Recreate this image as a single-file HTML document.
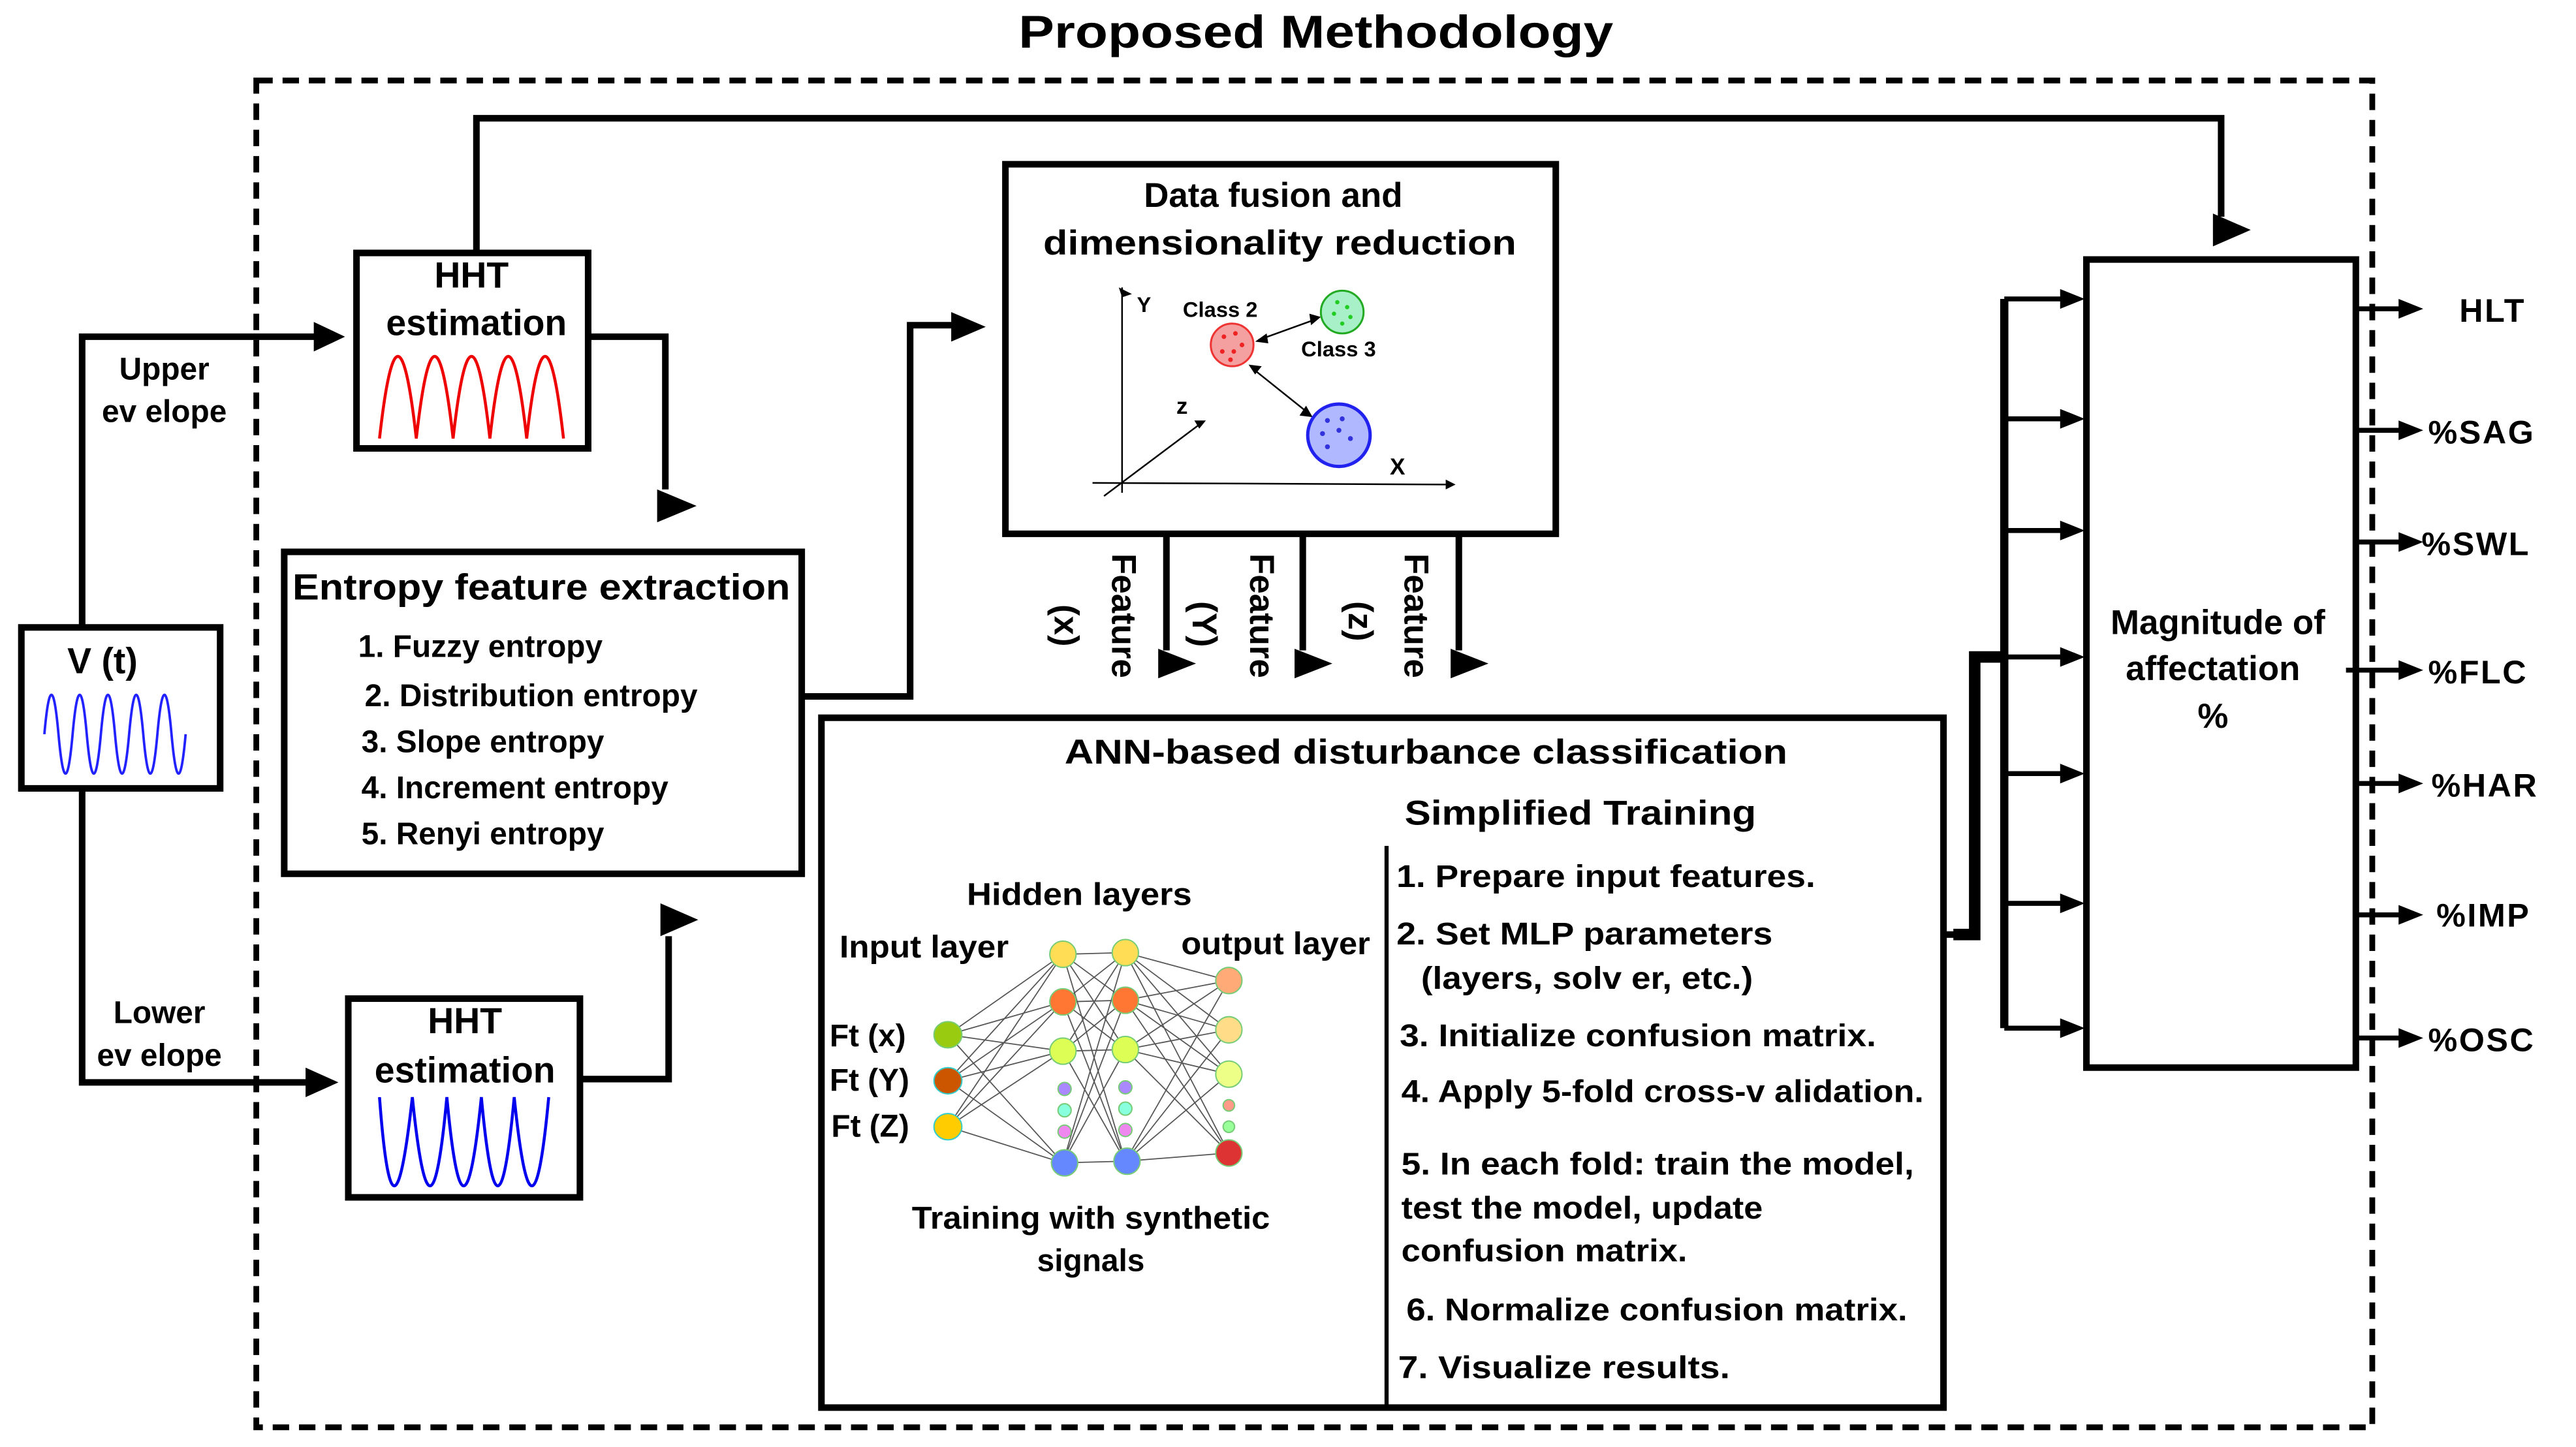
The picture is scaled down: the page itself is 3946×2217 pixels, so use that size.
<!DOCTYPE html>
<html><head><meta charset="utf-8"><style>
html,body{margin:0;padding:0;background:#fff;}
svg{display:block;}
text{font-family:"Liberation Sans",Arial,sans-serif;font-weight:bold;fill:#000;}
.n{font-family:"Liberation Sans Narrow","Liberation Sans",sans-serif;}
</style></head><body>
<svg width="3946" height="2217" viewBox="0 0 1568 881" preserveAspectRatio="none" xmlns="http://www.w3.org/2000/svg">
<rect width="1568" height="881" fill="#fff"/>
<text x="620" y="29" font-size="28" textLength="362" lengthAdjust="spacingAndGlyphs">Proposed  Methodology</text>
<rect x="156" y="49" width="1288" height="820" fill="none" stroke="#000" stroke-width="3.5" stroke-dasharray="10,6"/>

<g fill="none" stroke="#000" stroke-width="4">
<rect x="13" y="382" width="121" height="98"/>
<rect x="217" y="154" width="141" height="119"/>
<rect x="212" y="608" width="141" height="121"/>
<rect x="173" y="336" width="315" height="196"/>
<rect x="612" y="100" width="335" height="225"/>
<rect x="500" y="437" width="683" height="420"/>
<rect x="1270" y="158" width="164" height="492"/>
<polyline points="50,382 50,205 198,205"/>
<polyline points="50,480 50,659 193,659"/>
<polyline points="290,154 290,72 1352,72 1352,132"/>
<polyline points="358,205 405,205 405,298"/>
<polyline points="488,424 554,424 554,198 584,198"/>
<polyline points="353,657 407,657 407,570"/>
<line x1="710" y1="325" x2="710" y2="396"/>
<line x1="793" y1="325" x2="793" y2="396"/>
<line x1="888" y1="325" x2="888" y2="396"/>
<polyline points="1183,569 1200,569"/>
<polyline points="1220,182 1220,626" stroke-width="5"/>
</g>
<polyline points="1189,569 1202,569 1202,400 1222,400" fill="none" stroke="#000" stroke-width="7"/>
<line x1="844" y1="515" x2="844" y2="857" stroke="#000" stroke-width="2.5"/>

<g fill="#000">
<polygon points="191,196 210,205 191,214"/>
<polygon points="186,650 206,659 186,668"/>
<polygon points="1347,130 1370,140 1347,150"/>
<polygon points="400,298 424,308 400,318"/>
<polygon points="579,190 600,199 579,208"/>
<polygon points="402,550 425,560 402,570"/>
<polygon points="705,395 728,404 705,413"/>
<polygon points="788,395 811,404 788,413"/>
<polygon points="883,395 906,404 883,413"/>
</g>
<g stroke="#000" stroke-width="3">
<line x1="1220" y1="182" x2="1256" y2="182"/><line x1="1220" y1="255" x2="1256" y2="255"/>
<line x1="1220" y1="323" x2="1256" y2="323"/><line x1="1220" y1="400" x2="1256" y2="400"/>
<line x1="1220" y1="471" x2="1256" y2="471"/><line x1="1220" y1="550" x2="1256" y2="550"/>
<line x1="1220" y1="626" x2="1256" y2="626"/>
<line x1="1434" y1="188" x2="1462" y2="188"/><line x1="1434" y1="262" x2="1462" y2="262"/>
<line x1="1434" y1="330" x2="1462" y2="330"/><line x1="1428" y1="408" x2="1462" y2="408"/>
<line x1="1434" y1="477" x2="1462" y2="477"/><line x1="1434" y1="557" x2="1462" y2="557"/>
<line x1="1434" y1="632" x2="1462" y2="632"/>
</g>
<g fill="#000">
<polygon points="1254,176 1269,182 1254,188"/><polygon points="1254,249 1269,255 1254,261"/>
<polygon points="1254,317 1269,323 1254,329"/><polygon points="1254,394 1269,400 1254,406"/>
<polygon points="1254,465 1269,471 1254,477"/><polygon points="1254,544 1269,550 1254,556"/>
<polygon points="1254,620 1269,626 1254,632"/>
<polygon points="1460,182 1475,188 1460,194"/><polygon points="1460,256 1475,262 1460,268"/>
<polygon points="1460,324 1475,330 1460,336"/><polygon points="1460,402 1475,408 1460,414"/>
<polygon points="1460,471 1475,477 1460,483"/><polygon points="1460,551 1475,557 1460,563"/>
<polygon points="1460,626 1475,632 1460,638"/>
</g>

<path d="M27,447 Q31.3,399 35.6,447 T44.2,447 T52.8,447 T61.4,447 T70,447 T78.6,447 T87.2,447 T95.8,447 T104.4,447 T113,447" fill="none" stroke="#22f" stroke-width="1.5"/>
<path d="M231,267 Q242.2,167 253.4,267 Q264.6,167 275.8,267 Q287,167 298.2,267 Q309.4,167 320.6,267 Q331.8,167 343,267" fill="none" stroke="#e00" stroke-width="1.8"/>
<path d="M231,668 Q239,776 251,668 Q262,776 272,668 Q282,776 293,668 Q303,776 313,668 Q324,776 334,668" fill="none" stroke="#00e" stroke-width="1.8"/>

<text x="41" y="410" font-size="22">V (t)</text>
<text x="287" y="175" font-size="22" text-anchor="middle">HHT</text>
<text x="290" y="204" font-size="22" text-anchor="middle">estimation</text>
<text x="283" y="629" font-size="22" text-anchor="middle">HHT</text>
<text x="283" y="659" font-size="22" text-anchor="middle">estimation</text>
<text x="100" y="231" font-size="19" text-anchor="middle">Upper</text>
<text x="100" y="257" font-size="19" text-anchor="middle">ev elope</text>
<text x="97" y="623" font-size="19" text-anchor="middle">Lower</text>
<text x="97" y="649" font-size="19" text-anchor="middle">ev elope</text>
<text x="178" y="365" font-size="22" textLength="303" lengthAdjust="spacingAndGlyphs">Entropy feature extraction</text>
<g font-size="19">
<text x="218" y="400">1. Fuzzy entropy</text>
<text x="222" y="430">2. Distribution entropy</text>
<text x="220" y="458">3. Slope entropy</text>
<text x="220" y="486">4. Increment entropy</text>
<text x="220" y="514">5. Renyi entropy</text>
</g>
<text x="775" y="126" font-size="21" text-anchor="middle">Data fusion and</text>
<text x="779" y="155" font-size="21" text-anchor="middle" textLength="288" lengthAdjust="spacingAndGlyphs">dimensionality reduction</text>
<g stroke="#000" stroke-width="1" fill="none">
<line x1="683" y1="300" x2="683" y2="175"/><line x1="665" y1="294" x2="880" y2="295"/>
<line x1="672" y1="302" x2="732" y2="257"/>
<line x1="766" y1="207" x2="802" y2="194"/><line x1="762" y1="224" x2="797" y2="252"/>
</g>
<g fill="#000"><polygon points="681,175 689,179 683,181"/><polygon points="880,292 880,298 886,295"/><polygon points="727,256 734,256 730,261"/>
<polygon points="764,208 771,203 772,209"/><polygon points="804,193 797,191 798,198"/>
<polygon points="760,222 768,223 764,228"/><polygon points="799,254 791,253 795,247"/></g>
<circle cx="750" cy="210" r="13" fill="#f4a0a0" stroke="#e33" stroke-width="1.2"/>
<circle cx="817" cy="190" r="13" fill="#a8f0c8" stroke="#2a2" stroke-width="1.2"/>
<circle cx="815" cy="265" r="19" fill="#b0b8ff" stroke="#22e" stroke-width="2"/>
<g fill="#e22"><circle cx="745" cy="205" r="1.4"/><circle cx="752" cy="203" r="1.4"/><circle cx="756" cy="210" r="1.4"/><circle cx="744" cy="214" r="1.4"/><circle cx="751" cy="214" r="1.4"/><circle cx="749" cy="219" r="1.4"/></g>
<g fill="#2c2"><circle cx="814" cy="184" r="1.3"/><circle cx="820" cy="187" r="1.3"/><circle cx="812" cy="191" r="1.3"/><circle cx="822" cy="193" r="1.3"/><circle cx="817" cy="197" r="1.3"/></g>
<g fill="#33d"><circle cx="808" cy="256" r="1.5"/><circle cx="817" cy="255" r="1.5"/><circle cx="805" cy="264" r="1.5"/><circle cx="815" cy="262" r="1.5"/><circle cx="822" cy="267" r="1.5"/><circle cx="808" cy="272" r="1.5"/></g>
<text x="692" y="190" font-size="13">Y</text>
<text x="720" y="193" font-size="13">Class 2</text>
<text x="792" y="217" font-size="13">Class 3</text>
<text x="716" y="252" font-size="14">z</text>
<text x="846" y="289" font-size="14">X</text>
<g font-size="21">
<text transform="translate(677,337) rotate(90)">Feature</text>
<text transform="translate(642,368) rotate(90)">(x)</text>
<text transform="translate(761,337) rotate(90)">Feature</text>
<text transform="translate(726,366) rotate(90)">(Y)</text>
<text transform="translate(855,337) rotate(90)">Feature</text>
<text transform="translate(821,366) rotate(90)">(z)</text>
</g>
<text x="868" y="465" font-size="21" text-anchor="middle" class="n" textLength="440" lengthAdjust="spacingAndGlyphs">ANN-based disturbance  classification</text>
<text x="962" y="502" font-size="21" text-anchor="middle" class="n" textLength="214" lengthAdjust="spacingAndGlyphs">Simplified Training</text>
<g font-size="19" class="n">
<text x="850" y="540" textLength="255" lengthAdjust="spacingAndGlyphs">1. Prepare input features.</text>
<text x="850" y="575" textLength="229" lengthAdjust="spacingAndGlyphs">2. Set MLP parameters</text>
<text x="865" y="602" textLength="202" lengthAdjust="spacingAndGlyphs">(layers, solv er, etc.)</text>
<text x="852" y="637" textLength="290" lengthAdjust="spacingAndGlyphs">3. Initialize confusion matrix.</text>
<text x="853" y="671" textLength="318" lengthAdjust="spacingAndGlyphs">4. Apply 5-fold cross-v alidation.</text>
<text x="853" y="715" textLength="312" lengthAdjust="spacingAndGlyphs">5. In each fold: train the model,</text>
<text x="853" y="742" textLength="220" lengthAdjust="spacingAndGlyphs">test the model, update</text>
<text x="853" y="768" textLength="174" lengthAdjust="spacingAndGlyphs">confusion matrix.</text>
<text x="856" y="804" textLength="305" lengthAdjust="spacingAndGlyphs">6. Normalize confusion matrix.</text>
<text x="851" y="839" textLength="202" lengthAdjust="spacingAndGlyphs">7. Visualize results.</text>
<text x="657" y="551" text-anchor="middle" textLength="137" lengthAdjust="spacingAndGlyphs">Hidden layers</text>
<text x="511" y="583" textLength="103" lengthAdjust="spacingAndGlyphs">Input layer</text>
<text x="719" y="581" textLength="115" lengthAdjust="spacingAndGlyphs">output layer</text>
<text x="505" y="637">Ft (x)</text>
<text x="505" y="664">Ft (Y)</text>
<text x="506" y="692">Ft (Z)</text>
<text x="664" y="748" text-anchor="middle" textLength="218" lengthAdjust="spacingAndGlyphs">Training with synthetic</text>
<text x="664" y="774" text-anchor="middle">signals</text>
</g>
<g stroke="#555" stroke-width="0.7">
<line x1="577" y1="630" x2="647" y2="581"/><line x1="577" y1="630" x2="647" y2="610"/><line x1="577" y1="630" x2="647" y2="640"/><line x1="577" y1="630" x2="647" y2="708"/>
<line x1="577" y1="658" x2="647" y2="581"/><line x1="577" y1="658" x2="647" y2="610"/><line x1="577" y1="658" x2="647" y2="640"/><line x1="577" y1="658" x2="647" y2="708"/>
<line x1="577" y1="686" x2="647" y2="581"/><line x1="577" y1="686" x2="647" y2="610"/><line x1="577" y1="686" x2="647" y2="640"/><line x1="577" y1="686" x2="647" y2="708"/>
<line x1="647" y1="581" x2="685" y2="580"/><line x1="647" y1="581" x2="685" y2="609"/><line x1="647" y1="581" x2="685" y2="639"/><line x1="647" y1="581" x2="685" y2="707"/>
<line x1="647" y1="610" x2="685" y2="580"/><line x1="647" y1="610" x2="685" y2="609"/><line x1="647" y1="610" x2="685" y2="639"/><line x1="647" y1="610" x2="685" y2="707"/>
<line x1="647" y1="640" x2="685" y2="580"/><line x1="647" y1="640" x2="685" y2="609"/><line x1="647" y1="640" x2="685" y2="639"/><line x1="647" y1="640" x2="685" y2="707"/>
<line x1="647" y1="708" x2="685" y2="580"/><line x1="647" y1="708" x2="685" y2="609"/><line x1="647" y1="708" x2="685" y2="639"/><line x1="647" y1="708" x2="685" y2="707"/>
<line x1="685" y1="580" x2="748" y2="597"/><line x1="685" y1="580" x2="748" y2="627"/><line x1="685" y1="580" x2="748" y2="654"/><line x1="685" y1="580" x2="748" y2="702"/>
<line x1="685" y1="609" x2="748" y2="597"/><line x1="685" y1="609" x2="748" y2="627"/><line x1="685" y1="609" x2="748" y2="654"/><line x1="685" y1="609" x2="748" y2="702"/>
<line x1="685" y1="639" x2="748" y2="597"/><line x1="685" y1="639" x2="748" y2="627"/><line x1="685" y1="639" x2="748" y2="654"/><line x1="685" y1="639" x2="748" y2="702"/>
<line x1="685" y1="707" x2="748" y2="597"/><line x1="685" y1="707" x2="748" y2="627"/><line x1="685" y1="707" x2="748" y2="654"/><line x1="685" y1="707" x2="748" y2="702"/>
</g>
<g stroke="#7c7" stroke-width="0.8">
<ellipse cx="577" cy="630" rx="8.5" ry="8" fill="#9c1"/>
<ellipse cx="577" cy="658" rx="8.5" ry="8" fill="#c50" stroke="#3cc"/>
<ellipse cx="577" cy="686" rx="8.5" ry="8" fill="#fc0" stroke="#3cc"/>
<ellipse cx="647" cy="581" rx="8" ry="8" fill="#fd5"/>
<ellipse cx="647" cy="610" rx="8" ry="8" fill="#f73"/>
<ellipse cx="647" cy="640" rx="8" ry="8" fill="#df5"/>
<circle cx="648" cy="663" r="4" fill="#a8f"/><circle cx="648" cy="676" r="4" fill="#8fd"/><circle cx="648" cy="689" r="4" fill="#e8e"/>
<ellipse cx="648" cy="708" rx="8" ry="8" fill="#68f"/>
<ellipse cx="685" cy="580" rx="8" ry="8" fill="#fd5"/>
<ellipse cx="685" cy="609" rx="8" ry="8" fill="#f73"/>
<ellipse cx="685" cy="639" rx="8" ry="8" fill="#df5"/>
<circle cx="685" cy="662" r="4" fill="#a8f"/><circle cx="685" cy="675" r="4" fill="#8fd"/><circle cx="685" cy="688" r="4" fill="#e8e"/>
<ellipse cx="686" cy="707" rx="8" ry="8" fill="#68f"/>
<ellipse cx="748" cy="597" rx="8" ry="8" fill="#fa7"/>
<ellipse cx="748" cy="627" rx="8" ry="8" fill="#fd8"/>
<ellipse cx="748" cy="654" rx="8" ry="8" fill="#ef8"/>
<circle cx="748" cy="673" r="3.5" fill="#f98"/><circle cx="748" cy="686" r="3.5" fill="#9f9"/>
<ellipse cx="748" cy="702" rx="8" ry="8" fill="#d33"/>
</g>
<text x="1350" y="386" font-size="21" text-anchor="middle">Magnitude of</text>
<text x="1347" y="414" font-size="21" text-anchor="middle">affectation</text>
<text x="1347" y="443" font-size="21" text-anchor="middle">%</text>
<g font-size="20" letter-spacing="1">
<text x="1497" y="196">HLT</text>
<text x="1478" y="270">%SAG</text>
<text x="1474" y="338">%SWL</text>
<text x="1478" y="416">%FLC</text>
<text x="1480" y="485">%HAR</text>
<text x="1483" y="564">%IMP</text>
<text x="1478" y="640">%OSC</text>
</g>
</svg>
</body></html>
